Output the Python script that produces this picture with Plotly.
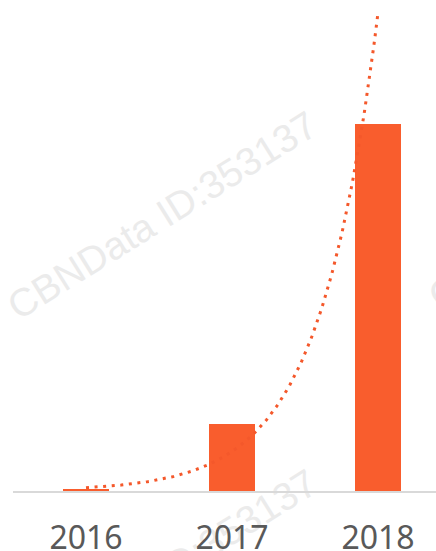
import numpy as np
import plotly.graph_objects as go

years = ["2016", "2017", "2018"]
values = [0.5, 13.4, 73.4]

bar_color = "#F95D2D"
line_color = "#F4582B"
wm_color = "#EBEBEB"

xi = np.arange(len(years))
# exponential trendline fitted to the bar values (as in the original chart)
b, a = np.polyfit(xi, np.log(values), 1)
xt = np.linspace(0, len(years) - 1, 200)
yt = np.exp(a + b * xt)

W, H = 436, 551
L, B = 13, 60
plot_w, plot_h = W - L, H - B

def px(x, y):
    return (x - L) / plot_w, (H - B - y) / plot_h

fig = go.Figure()
fig.add_trace(go.Scatter(x=xt, y=yt, mode="lines",
                         line=dict(color=line_color, width=3, dash="3px,5.6px"),
                         hoverinfo="skip", showlegend=False))
fig.add_trace(go.Bar(x=xi, y=values, marker=dict(color=bar_color, line=dict(width=0)),
                     width=0.315, showlegend=False, hoverinfo="skip"))

# faint repeated watermark, drawn beneath the data
wm = "CBNData ID:353137"
ang = np.deg2rad(32)
half = 150
for cx, cy in [(160, 212), (160, 570), (581, 202)]:
    x0, y0 = px(cx - half * np.cos(ang), cy + half * np.sin(ang))
    x1, y1 = px(cx + half * np.cos(ang), cy - half * np.sin(ang))
    fig.add_shape(type="line", xref="paper", yref="paper", x0=x0, y0=y0, x1=x1, y1=y1,
                  line=dict(width=0, color="rgba(0,0,0,0)"), layer="below",
                  label=dict(text=wm, textposition="middle", textangle=-32,
                             xanchor="center", yanchor="middle",
                             font=dict(family="Liberation Sans", size=39, color=wm_color)))

fig.update_layout(
    width=W, height=H,
    margin=dict(l=L, r=0, t=0, b=B, pad=0, autoexpand=False),
    plot_bgcolor="rgba(0,0,0,0)", paper_bgcolor="white",
    bargap=0,
    xaxis=dict(range=[-0.5, (W - L) / 146 - 0.5], tickvals=list(xi), ticktext=years,
               showgrid=False, zeroline=False, showline=True, linecolor="#D9D9D9",
               linewidth=1.5, ticks="", ticklabelstandoff=18, automargin=False,
               tickfont=dict(family="Noto Sans", size=32, color="#595959")),
    yaxis=dict(range=[0, 98.2], visible=False, showgrid=False, zeroline=False,
               automargin=False),
)

fig.write_html("out.html", post_script="document.body.style.margin='0';",
               config={"displayModeBar": False})
